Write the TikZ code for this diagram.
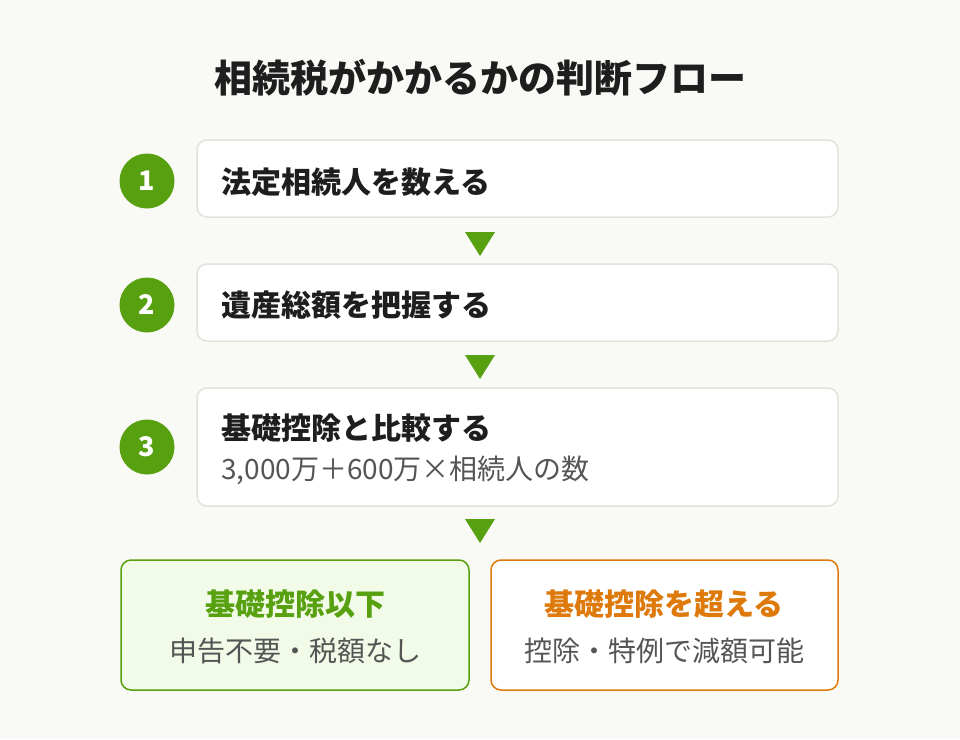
\documentclass[tikz,border=0pt]{standalone}
\usepackage{fontspec}
\setmainfont{Noto Sans CJK JP}
\definecolor{bgc}{HTML}{F9F9F5}
\definecolor{grn}{HTML}{57A00F}
\definecolor{org}{HTML}{DD7A0B}
\definecolor{boxline}{HTML}{E3E3DD}
\definecolor{ink}{HTML}{1E1E1E}
\definecolor{sub}{HTML}{555555}
\definecolor{lgrn}{HTML}{F1FBE7}
\tikzset{
  stepbox/.style={draw=boxline,line width=1.5pt,fill=white,rounded corners=10pt},
  numc/.style={circle,fill=grn,minimum size=55pt,inner sep=0pt,text=white,font=\fontsize{27}{32}\selectfont\bfseries},
  steptext/.style={anchor=west,inner sep=0pt,text=ink,font=\fontsize{30}{36}\selectfont\bfseries},
  subtext/.style={anchor=west,inner sep=0pt,text=sub,font=\fontsize{28}{34}\selectfont},
  tri/.style={fill=grn,draw=none},
  restitle/.style={inner sep=0pt,font=\fontsize{30}{36}\selectfont\bfseries},
  ressub/.style={inner sep=0pt,text=sub,font=\fontsize{28}{34}\selectfont},
}
\begin{document}
\begin{tikzpicture}[x=1pt,y=-1pt]
\fill[bgc] (0,0) rectangle (960,739);
\useasboundingbox (0,0) rectangle (960,739);
\node[inner sep=0pt,text=ink,font=\fontsize{38}{44}\selectfont\bfseries] (title) at (480,78) {相続税がかかるかの判断フロー};

% step boxes
\draw[stepbox] (197,140) rectangle (838,217);
\draw[stepbox] (197,264) rectangle (838,341);
\draw[stepbox] (197,388) rectangle (838,506);

\node[numc] (n1) at (147,181) {1};
\node[numc] (n2) at (147,305) {2};
\node[numc] (n3) at (147,447) {3};

\node[steptext] (t1) at (221,182) {法定相続人を数える};
\node[steptext] (t2) at (221,305) {遺産総額を把握する};
\node[steptext] (t3) at (221,428) {基礎控除と比較する};
\node[subtext] (s3) at (221,470) {3,000万＋600万×相続人の数};

% arrows
\fill[tri] (465,232) -- (495,232) -- (480,256) -- cycle;
\fill[tri] (465,355) -- (495,355) -- (480,379) -- cycle;
\fill[tri] (465,519) -- (495,519) -- (480,543) -- cycle;

% results
\draw[draw=grn,line width=1.5pt,fill=lgrn,rounded corners=10pt] (121,560) rectangle (469,690);
\draw[draw=org,line width=1.5pt,fill=white,rounded corners=10pt] (491,560) rectangle (838,690);
\node[restitle,text=grn] (r1) at (295,604) {基礎控除以下};
\node[ressub] (r1s) at (295,651) {申告不要・税額なし};
\node[restitle,text=org] (r2) at (664,604) {基礎控除を超える};
\node[ressub] (r2s) at (664,651) {控除・特例で減額可能};
\end{tikzpicture}
\end{document}
